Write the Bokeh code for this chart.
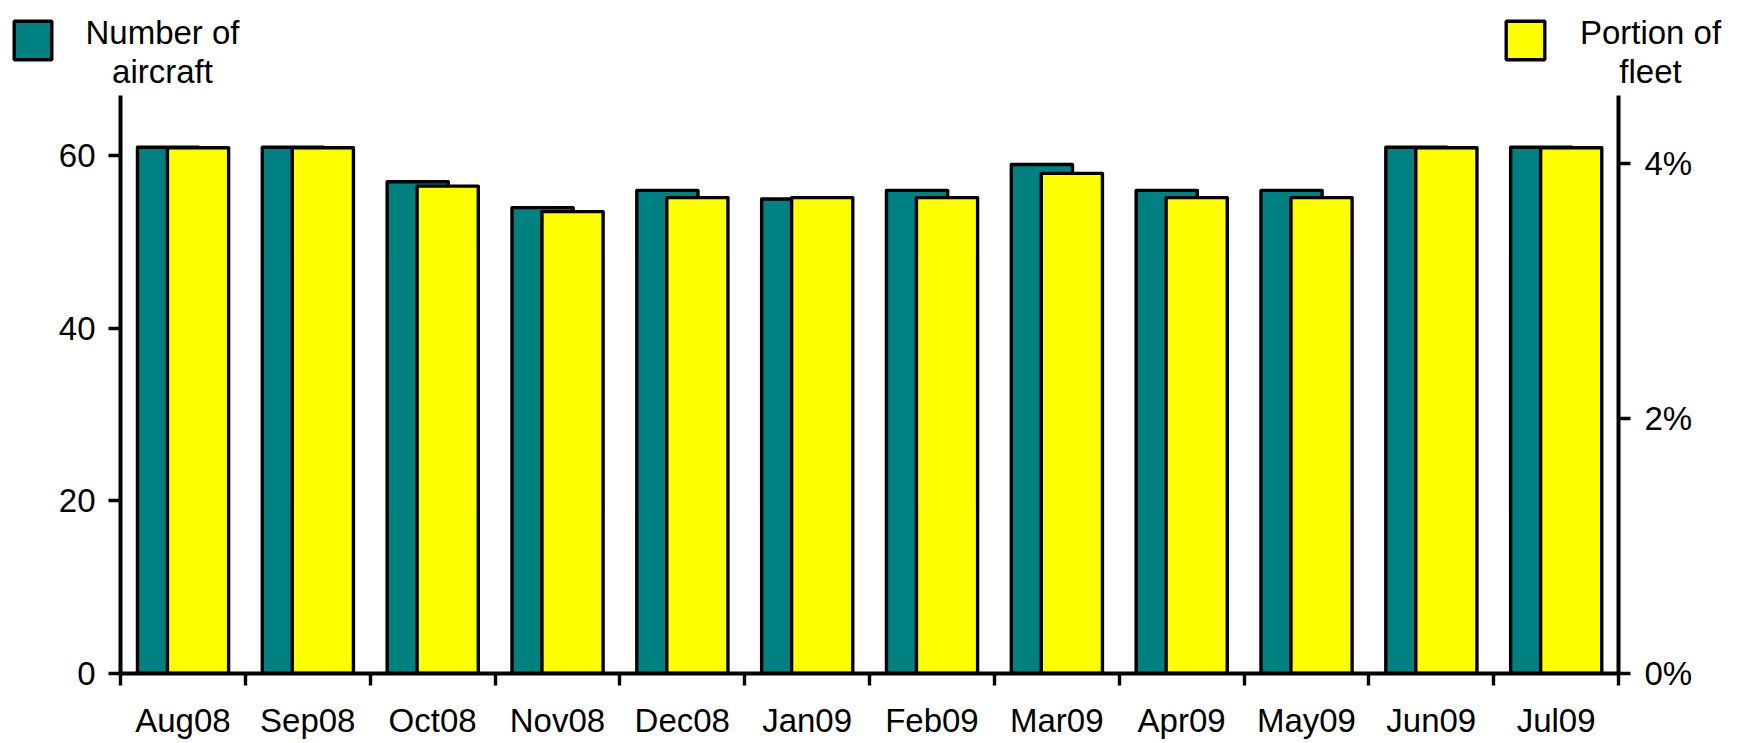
import numpy as np
from bokeh.plotting import figure
from bokeh.layouts import column
from bokeh.models import (ColumnDataSource, Range1d, LinearAxis, FixedTicker,
                          PrintfTickFormatter, Label, BoxAnnotation, Div, Plot)
from bokeh.transform import dodge
from bokeh.embed import file_html
from bokeh.resources import INLINE

# ---- data ----
months = ["Aug08", "Sep08", "Oct08", "Nov08", "Dec08", "Jan09",
          "Feb09", "Mar09", "Apr09", "May09", "Jun09", "Jul09"]
aircraft = [61, 61, 57, 54, 56, 55, 56, 59, 56, 56, 61, 61]
fleet_pct = [4.12, 4.12, 3.82, 3.62, 3.73, 3.73, 3.73, 3.92, 3.73, 3.73, 4.12, 4.12]
left_ticks = [0, 20, 40, 60]
right_ticks = [0, 2, 4]
series_names = ["Number of\naircraft", "Portion of\nfleet"]

TEAL = "#008080"
YELLOW = "#FFFF00"
FONT = "Liberation Sans"
FS = "33px"

W, H = 1743, 743
TOP_H = 95                      # height of the legend strip
FL, FR, FB = 120, 1618, 673     # main frame edges (page px)
MAIN_H = H - TOP_H

n = len(months)
centers = [i + 0.5 for i in range(n)]
src = ColumnDataSource(dict(x=centers, aircraft=aircraft, pct=fleet_pct))

# ---------------- main chart ----------------
p = figure(width=W, height=MAIN_H, output_backend="svg", toolbar_location=None,
           x_range=Range1d(0, n), y_range=Range1d(0, 67.0),
           min_border_left=FL, min_border_right=W - FR, min_border_top=0,
           min_border_bottom=H - FB, x_axis_type=None, y_axis_type=None)
p.extra_y_ranges = {"right": Range1d(0, 4.53)}
p.outline_line_color = None
p.xgrid.visible = False
p.ygrid.visible = False

bar_style = dict(line_color="black", line_width=3.4, line_join="round")
r1 = p.vbar(x=dodge("x", -0.119), top="aircraft", width=0.49, source=src,
            fill_color=TEAL, **bar_style)
r2 = p.vbar(x=dodge("x", 0.121), top="pct", width=0.49, source=src,
            y_range_name="right", fill_color=YELLOW, **bar_style)

def style_axis(ax):
    ax.axis_line_width = 4
    ax.axis_line_color = "black"
    ax.major_tick_line_width = 3.4
    ax.minor_tick_line_width = 3.4
    ax.major_label_text_font = FONT
    ax.major_label_text_font_size = FS
    ax.major_label_text_color = "black"

ly = LinearAxis(ticker=FixedTicker(ticks=left_ticks))
style_axis(ly)
ly.major_tick_out = 12
ly.major_tick_in = 0
ly.minor_tick_out = 0
ly.minor_tick_in = 0
ly.major_label_standoff = 13
p.add_layout(ly, "left")

ry = LinearAxis(y_range_name="right", ticker=FixedTicker(ticks=right_ticks),
                formatter=PrintfTickFormatter(format="%d%%"))
style_axis(ry)
ry.major_tick_out = 12
ry.major_tick_in = 0
ry.minor_tick_out = 0
ry.minor_tick_in = 0
ry.major_label_standoff = 14
p.add_layout(ry, "right")

bx = LinearAxis(ticker=FixedTicker(ticks=centers, minor_ticks=list(range(n + 1))))
style_axis(bx)
bx.major_tick_out = 0
bx.major_tick_in = 0
bx.major_tick_line_color = None
bx.minor_tick_out = 12
bx.minor_tick_in = 0
bx.major_label_standoff = 16
bx.major_label_overrides = {c: m for c, m in zip(centers, months)}
p.add_layout(bx, "below")

# ---------------- legend strip ----------------
# swatch boxes (left, top, right, bottom) and text centres, in strip pixels
swatch_boxes = [(12, 19, 53, 61), (1504, 19, 1546, 61)]
text_centers = [162, 1650]
colors = [TEAL, YELLOW]

if "frame_align" in Plot.properties():
    top = figure(width=W, height=TOP_H, output_backend="svg", toolbar_location=None,
                 x_range=Range1d(0, W), y_range=Range1d(TOP_H, 0),
                 min_border_left=0, min_border_right=0, min_border_top=0,
                 min_border_bottom=0, x_axis_type=None, y_axis_type=None)
    top.frame_align = False
    top.outline_line_color = None
    top.xgrid.visible = False
    top.ygrid.visible = False
    for (l, t, r, b), c in zip(swatch_boxes, colors):
        top.add_layout(BoxAnnotation(left=l + 1.7, right=r - 1.7, top=t + 1.7,
                                     bottom=b - 1.7, fill_color=c, fill_alpha=1,
                                     line_color="black", line_width=3.4, line_alpha=1))
    for name, cx in zip(series_names, text_centers):
        for k, line in enumerate(name.split("\n")):
            top.add_layout(Label(x=cx, y=32 + 39 * k, text=line, text_align="center",
                                 text_baseline="alphabetic", text_font=FONT,
                                 text_font_size=FS, text_color="black"))
else:
    parts = []
    for (l, t, r, b), c in zip(swatch_boxes, colors):
        parts.append(f'<div style="position:absolute;left:{l}px;top:{t}px;'
                     f'width:{r - l - 6}px;height:{b - t - 6}px;background:{c};'
                     f'border:3px solid black;border-radius:3px"></div>')
    for name, cx in zip(series_names, text_centers):
        html_name = name.replace("\n", "<br>")
        parts.append(f'<div style="position:absolute;left:{cx - 120}px;top:1px;'
                     f'width:240px;text-align:center;line-height:39px">{html_name}</div>')
    top = Div(text="".join(parts), width=W, height=TOP_H,
              styles={"position": "relative", "font-family": FONT,
                      "font-size": FS, "color": "black"})

layout = column(top, p, spacing=0)
open("out.html", "w").write(file_html(layout, INLINE))
